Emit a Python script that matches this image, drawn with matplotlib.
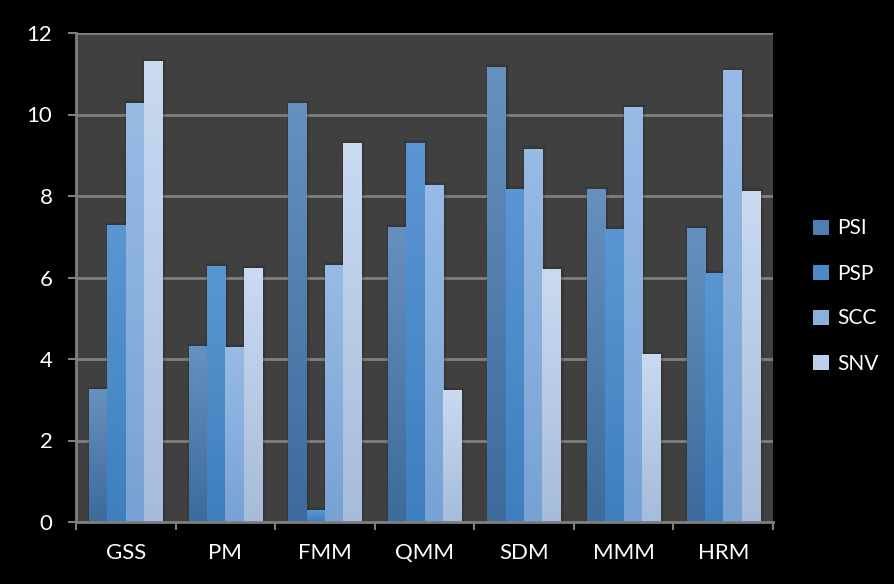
import matplotlib
matplotlib.use("Agg")
import matplotlib.pyplot as plt
import numpy as np
from matplotlib.patches import Rectangle, Patch
from matplotlib.colors import LinearSegmentedColormap

plt.rcParams['font.family'] = ['Lato', 'DejaVu Sans']

categories = ["GSS", "PM", "FMM", "QMM", "SDM", "MMM", "HRM"]
series = ["PSI", "PSP", "SCC", "SNV"]
psi = [3.25, 4.30, 10.27, 7.22, 11.15, 8.15, 7.20]
psp = [7.28, 6.28, 0.28, 9.28, 8.15, 7.17, 6.10]
scc = [10.28, 4.28, 6.30, 8.25, 9.15, 10.17, 11.07]
snv = [11.30, 6.22, 9.28, 3.23, 6.20, 4.10, 8.12]
values = [psi, psp, scc, snv]
yticks = [0, 2, 4, 6, 8, 10, 12]

# (top colour, bottom colour) for gradients
grad = [("#6690be", "#3c6b9c"),
        ("#5a96d2", "#3f7fbf"),
        ("#98bbe5", "#78a2d4"),
        ("#c9daf1", "#a6bcdb")]
flat = ["#4f7fb2", "#4a8ac9", "#8ab0de", "#bcd0ec"]

fig = plt.figure(figsize=(8.94, 5.84), dpi=100, facecolor="black")
ax = fig.add_axes([76/894, 1-522/584, (773-76)/894, (522-33)/584])
ax.set_facecolor("#404040")
ax.set_xlim(-0.5, len(categories) - 0.5)
ax.set_ylim(0, 12)

for y in yticks[1:]:
    ax.axhline(y, color="#7f7f7f", lw=2, zorder=1)

w = 0.184
x = np.arange(len(categories))
for i, vals in enumerate(values):
    cmap = LinearSegmentedColormap.from_list("g%d" % i, [grad[i][1], grad[i][0]])
    for xi, v in zip(x, vals):
        left = xi + (i - 1.5) * w - w / 2
        # soft shadow
        for pad in [0.045, 0.03, 0.015]:
            ax.add_patch(Rectangle((left - pad * 0.6 + 0.01, 0), w + pad * 1.2, v + pad * 2,
                                   facecolor="black", edgecolor="none", alpha=0.06, zorder=2))
        grad_img = np.linspace(0, 1, 100).reshape(-1, 1)
        ax.imshow(grad_img, cmap=cmap, origin="lower", aspect="auto",
                  extent=(left, left + w, 0, v), zorder=3, interpolation="bilinear")

ax.set_xlim(-0.5, len(categories) - 0.5)
ax.set_ylim(0, 12)

for s in ["top", "right"]:
    ax.spines[s].set_visible(False)
for s in ["left", "bottom"]:
    ax.spines[s].set_color("#7f7f7f")
    ax.spines[s].set_linewidth(2)
    ax.spines[s].set_zorder(5)

ax.set_yticks(yticks)
ax.set_yticklabels([str(t) for t in yticks])
ax.set_xticks(np.arange(-0.5, len(categories)))
ax.set_xticklabels([])
ax.set_xticks(x, minor=True)
ax.set_xticklabels(categories, minor=True)
ax.tick_params(axis="y", colors="#7f7f7f", labelcolor="white", labelsize=16,
               length=6, width=1.5, pad=11)
ax.tick_params(axis="x", which="major", colors="#7f7f7f", length=6, width=1.5, direction="out")
ax.tick_params(axis="x", which="minor", length=0, labelcolor="white", labelsize=16, pad=15)

handles = [Patch(facecolor=flat[i], edgecolor="none", label=series[i]) for i in range(4)]
fig.legend(handles=handles, loc="center left", bbox_to_anchor=(813/894, 1-296/584),
           frameon=False, labelcolor="white", fontsize=15, handlelength=0.75,
           handleheight=0.75, handletextpad=0.4, labelspacing=1.2, borderpad=0,
           borderaxespad=0)

fig.savefig("out.png", dpi=100, facecolor="black")
